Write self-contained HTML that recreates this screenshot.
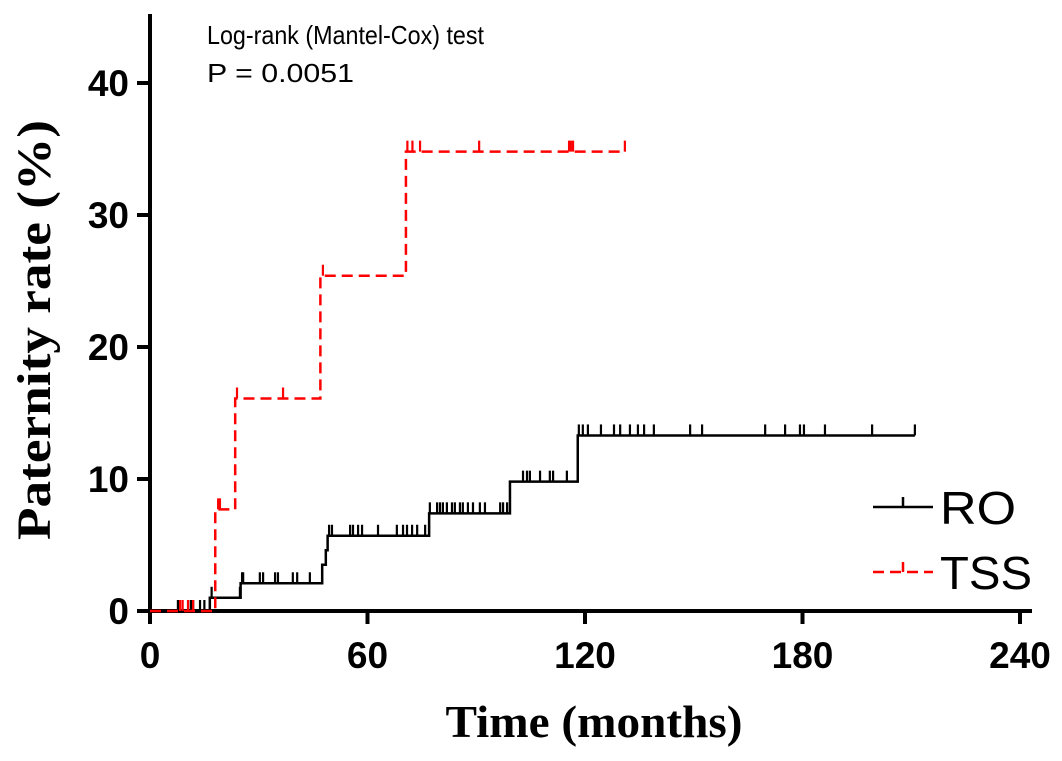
<!DOCTYPE html>
<html><head><meta charset="utf-8"><style>
body{margin:0;background:#fff}
svg{display:block}
</style></head><body>
<svg id="chart" width="1062" height="761" viewBox="0 0 1062 761" xmlns="http://www.w3.org/2000/svg">
<g id="axes"></g>
<g id="series"></g>
<text x="207" y="44" font-family="Liberation Sans, sans-serif" font-size="26" textLength="277" lengthAdjust="spacingAndGlyphs">Log-rank (Mantel-Cox) test</text>
<text x="207" y="82" font-family="Liberation Sans, sans-serif" font-size="26" textLength="147" lengthAdjust="spacingAndGlyphs">P = 0.0051</text>
<text transform="translate(50,330) rotate(-90)" text-anchor="middle" font-family="Liberation Serif, serif" font-weight="bold" font-size="48" textLength="420" lengthAdjust="spacingAndGlyphs">Paternity rate (%)</text>
<text x="594" y="737" text-anchor="middle" font-family="Liberation Serif, serif" font-weight="bold" font-size="46" textLength="297" lengthAdjust="spacingAndGlyphs">Time (months)</text>
<g>
<line x1="873" y1="507" x2="933" y2="507" stroke="#000" stroke-width="2.5"/>
<line x1="903" y1="507" x2="903" y2="497" stroke="#000" stroke-width="2.5"/>
<text x="940" y="524" font-family="Liberation Sans, sans-serif" font-size="46" textLength="76" lengthAdjust="spacingAndGlyphs">RO</text>
<line x1="873" y1="572" x2="933" y2="572" stroke="#f00" stroke-width="2.5" stroke-dasharray="11,6"/>
<line x1="903" y1="572" x2="903" y2="562" stroke="#f00" stroke-width="2.5"/>
<text x="940" y="589" font-family="Liberation Sans, sans-serif" font-size="46" textLength="92" lengthAdjust="spacingAndGlyphs">TSS</text>
</g>
</svg>
<script>
const xTicks=[0,60,120,180,240];
const yTicks=[0,10,20,30,40];
const roStepTimes=[0,16.5,25,47.5,48.5,49,77,99.3,118,211];
const roStepValues=[0,1.0,2.1,3.5,4.6,5.7,7.4,9.8,13.3,13.3];
const roCensorTimes=[7.7,10.5,11.3,11.9,13.8,15,17,24.8,25.4,25.7,30.3,31.2,34.5,35.3,39.4,40.6,44.1,49.4,50.2,55.2,56,57.4,58.5,62.9,68.1,69.8,70.9,72.3,73.7,75.9,77.2,79.2,80,80.8,81.9,83.3,84.1,85.5,86.3,87.7,89.1,91,92.4,96.6,97.4,98.5,102.9,104,104.8,107.6,110.3,111.2,115,118.3,119.4,120.8,124.4,128,129.7,132.4,134.6,136.3,139,149,152.3,169.7,175.2,179.3,180.4,186.2,199.2,211];
const tssStepTimes=[0,18,23.5,47,70.6,131];
const tssStepValues=[0,7.7,16.1,25.4,34.8,34.8];
const tssCensorTimes=[8.3,9,10.5,11.9,18.8,19.3,24,36.7,47.7,71,72.4,74.5,90.8,115.6,116.1,116.7,131];

const NS='http://www.w3.org/2000/svg';
const X=t=>150+t*3.625;
const Y=v=>611-v*13.2;
function mk(tag,attrs,parent){const e=document.createElementNS(NS,tag);for(const k in attrs)e.setAttribute(k,attrs[k]);parent.appendChild(e);return e;}
const axes=document.getElementById('axes');
const series=document.getElementById('series');
let a=mk('line',{x1:150,y1:14,x2:150,y2:613,stroke:'#000','stroke-width':4},axes);


a=mk('line',{x1:148,y1:611,x2:1032,y2:611,stroke:'#000','stroke-width':4},axes);


yTicks.forEach(v=>{
 const l=mk('line',{x1:137,y1:Y(v),x2:150,y2:Y(v),stroke:'#000','stroke-width':4},axes);
 
 
 const t=mk('text',{x:129,y:Y(v)+13,'text-anchor':'end','font-family':'Liberation Sans, sans-serif','font-weight':'bold','font-size':37},axes);
 t.textContent=v;
 
 
});
xTicks.forEach(v=>{
 const l=mk('line',{x1:X(v),y1:611,x2:X(v),y2:624,stroke:'#000','stroke-width':4},axes);
 
 
 const t=mk('text',{x:X(v),y:668,'text-anchor':'middle','font-family':'Liberation Sans, sans-serif','font-weight':'bold','font-size':37},axes);
 t.textContent=v;
 
 
});
function valAt(times,vals,t){let v=vals[0];for(let i=0;i<times.length;i++){if(times[i]<=t)v=vals[i];}return v;}
function drawSeries(times,vals,cens,color,dash,name){
 let d='M'+X(times[0])+','+Y(vals[0]);
 for(let i=1;i<times.length;i++){d+=' H'+X(times[i])+' V'+Y(vals[i]);}
 const p=mk('path',{d:d,fill:'none',stroke:color,'stroke-width':2.5},series);
 if(dash)p.setAttribute('stroke-dasharray',dash);
 
 
 cens.forEach(t=>{
  const v=valAt(times,vals,t);
  const c=mk('line',{x1:X(t),y1:Y(v),x2:X(t),y2:Y(v)-11,stroke:color,'stroke-width':2.2},series);
  
  
 });
}
drawSeries(roStepTimes,roStepValues,roCensorTimes,'#000',null,'ro');
drawSeries(tssStepTimes,tssStepValues,tssCensorTimes,'#f00','11,6','tss');
</script>
</body></html>
